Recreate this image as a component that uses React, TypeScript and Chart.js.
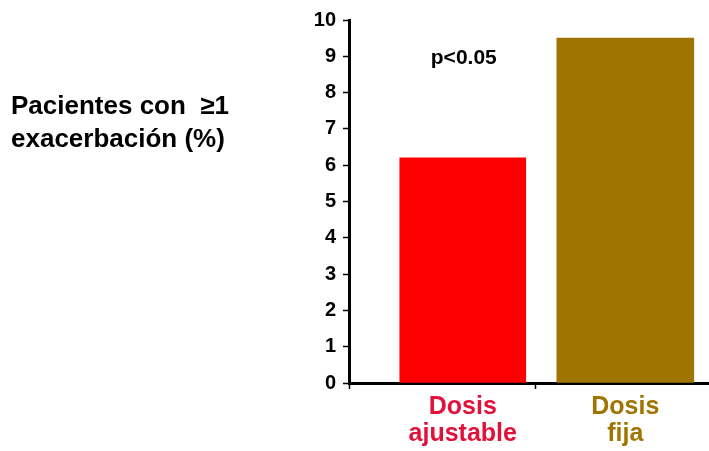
import React, { useEffect, useRef } from "react";
import { Chart, registerables } from "chart.js";

Chart.register(...registerables);

// ---- data ----
const categories: string[][] = [["Dosis", "ajustable"], ["Dosis", "fija"]];
const categoryPositions = [1, 2];
const patientsPct = [6.2, 9.5];
const barColors = ["#FF0000", "#A07400"];
const labelColors = ["#E1123A", "#A07400"];
const barWidths = [126, 137];
const yTicks = [0, 1, 2, 3, 4, 5, 6, 7, 8, 9, 10];
const yTitleLines = ["Pacientes con  \u22651", "exacerbaci\u00f3n (%)"];
const annotationText = "p<0.05";
const annotationLevel = 8.8;
const xRange = { min: 0.3, max: 2.515 };
const dividerValue = 1.45;

const FONT = '"Liberation Sans", Arial, Helvetica, sans-serif';

const textPlugin = {
  id: "extraText",
  afterDraw(chart: any) {
    const ctx = chart.ctx;
    const x = chart.scales.x;
    const y = chart.scales.y;
    ctx.save();
    ctx.fillStyle = "#000";
    ctx.font = `bold 26px ${FONT}`;
    ctx.textAlign = "left";
    ctx.textBaseline = "alphabetic";
    ctx.fillText(yTitleLines[0], 11, 114);
    ctx.fillText(yTitleLines[1], 11, 147);
    ctx.font = `bold 21px ${FONT}`;
    ctx.textAlign = "center";
    ctx.fillText(annotationText, x.getPixelForValue(categoryPositions[0]) + 1, y.getPixelForValue(annotationLevel));
    ctx.restore();
  },
};

export default function App() {
  const ref = useRef<HTMLCanvasElement | null>(null);
  useEffect(() => {
    if (!ref.current) return;
    const datasets = patientsPct.map((v, i) => ({
      label: categories[i].join(" "),
      data: [{ x: categoryPositions[i], y: v }],
      backgroundColor: barColors[i],
      borderWidth: 0,
      barThickness: barWidths[i],
      grouped: false,
    }));
    const chart = new Chart(ref.current, {
      type: "bar",
      data: { datasets } as any,
      options: {
        animation: false,
        responsive: false,
        devicePixelRatio: 1,
        layout: { padding: { left: 0, top: 20, right: 0, bottom: 0 } },
        plugins: { legend: { display: false }, tooltip: { enabled: false } },
        scales: {
          x: {
            type: "linear",
            offset: false,
            min: xRange.min,
            max: xRange.max,
            afterFit: (s: any) => {
              s.height = 68;
            },
            afterBuildTicks: (s: any) => {
              s.ticks = [xRange.min, categoryPositions[0], dividerValue, categoryPositions[1]].map((v) => ({ value: v }));
            },
            border: { display: true, color: "#000", width: 3 },
            grid: {
              offset: false,
              drawOnChartArea: false,
              tickLength: 6,
              tickWidth: 1.5,
              tickColor: (c: any) =>
                c.tick && categoryPositions.includes(c.tick.value) ? "rgba(0,0,0,0)" : "#000",
            },
            ticks: {
              autoSkip: false,
              maxRotation: 0,
              padding: 4,
              font: { family: FONT, size: 25, weight: "bold", lineHeight: 1.1 },
              color: (c: any) => {
                const idx = c.tick ? categoryPositions.indexOf(c.tick.value) : -1;
                return idx >= 0 ? labelColors[idx] : "#000";
              },
              callback: (v: any) => {
                const idx = categoryPositions.indexOf(Number(v));
                return idx >= 0 ? categories[idx] : "";
              },
            },
          },
          y: {
            min: 0,
            max: 10,
            afterFit: (s: any) => {
              s.width = 349;
            },
            afterBuildTicks: (s: any) => {
              s.ticks = yTicks.map((v) => ({ value: v }));
            },
            border: { display: true, color: "#000", width: 3 },
            grid: { drawOnChartArea: false, tickLength: 6, tickWidth: 1.5, tickColor: "#000" },
            ticks: {
              padding: 7,
              color: "#000",
              font: { family: FONT, size: 20, weight: "bold" },
            },
          },
        },
      } as any,
      plugins: [textPlugin],
    });
    return () => chart.destroy();
  }, []);
  return (
    <div style={{ position: "fixed", left: 0, top: 0, width: 709, height: 451, overflow: "hidden", background: "#fff" }}>
      <canvas ref={ref} width={709} height={451} style={{ width: 709, height: 451, display: "block" }} />
    </div>
  );
}
